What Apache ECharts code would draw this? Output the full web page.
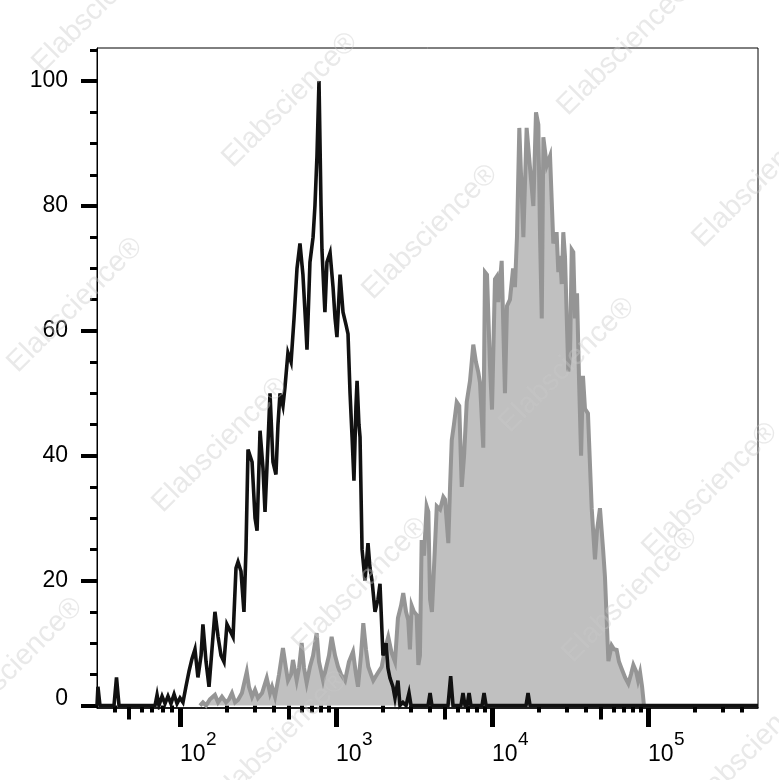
<!DOCTYPE html>
<html>
<head>
<meta charset="utf-8">
<script src="https://cdn.jsdelivr.net/npm/echarts@6/dist/echarts.min.js"></script>
<style>
html,body{margin:0;padding:0;background:#fff;}
#chart{width:779px;height:780px;}
</style>
</head>
<body>
<div id="chart"></div>
<script>
// x values are log10 of fluorescence intensity (display units of the biexponential axis)
const blackX = [1.468,1.474,1.487,1.577,1.593,1.609,1.840,1.853,1.865,1.885,1.904,1.923,1.942,1.962,1.981,2.000,2.019,2.038,2.058,2.077,2.096,2.115,2.135,2.147,2.167,2.186,2.205,2.224,2.244,2.263,2.282,2.301,2.321,2.340,2.359,2.372,2.391,2.410,2.423,2.436,2.449,2.462,2.481,2.494,2.513,2.532,2.545,2.564,2.577,2.596,2.615,2.628,2.641,2.660,2.673,2.692,2.712,2.731,2.750,2.769,2.788,2.808,2.814,2.833,2.853,2.865,2.878,2.891,2.904,2.910,2.923,2.929,2.942,2.962,2.981,2.994,3.006,3.026,3.045,3.064,3.077,3.090,3.103,3.115,3.128,3.135,3.147,3.154,3.167,3.186,3.205,3.218,3.231,3.250,3.269,3.282,3.301,3.321,3.333,3.346,3.365,3.378,3.397,3.410,3.429,3.449,3.468,3.481,3.590,3.603,3.615,3.718,3.735,3.750,3.801,3.814,3.827,3.840,3.853,3.865,3.936,3.949,3.962,4.218,4.231,4.244,5.705];
const blackY = [0,3,0,0,4.5,0,0,1.7,0,1.5,0.3,1.5,0.3,1.8,0.3,1.2,0.5,3,5.5,7.5,9,4.5,8,13,7,3,9,15,11,8,7,13,12,11,22,23,21.5,15,25,41,40,39,30,28,44,38,31,42,50,39,37,45,50,48,51,56.5,55,62,70,74,69,60,57,71,75,80,88,100,80,73,66,63,71,72.5,67,62,59,69,63,61,59.5,50,43,36,48,52,45,43,25,20,26,22,20,15,17,19.5,8,10,6,4.4,3,1.2,4,0,0.5,0,2,0,0,2,0,0,4.7,0,0,2,0,0,2,0,0,2,0,0,2,0,0];

const grayX = [2.128,2.147,2.167,2.192,2.224,2.244,2.269,2.295,2.314,2.333,2.353,2.372,2.397,2.428,2.442,2.462,2.481,2.500,2.526,2.556,2.577,2.590,2.609,2.635,2.660,2.679,2.692,2.712,2.724,2.748,2.763,2.780,2.795,2.812,2.833,2.853,2.876,2.891,2.917,2.936,2.955,2.972,2.994,3.013,3.032,3.058,3.083,3.109,3.128,3.141,3.160,3.175,3.192,3.207,3.224,3.239,3.263,3.293,3.314,3.335,3.357,3.378,3.397,3.417,3.431,3.449,3.463,3.474,3.485,3.500,3.517,3.528,3.538,3.549,3.564,3.581,3.592,3.603,3.615,3.628,3.646,3.667,3.688,3.699,3.720,3.731,3.742,3.756,3.774,3.790,3.806,3.821,3.838,3.859,3.880,3.897,3.912,3.923,3.944,3.955,3.968,3.987,4.000,4.019,4.030,4.040,4.062,4.071,4.083,4.096,4.115,4.135,4.147,4.160,4.175,4.186,4.201,4.222,4.244,4.265,4.282,4.297,4.308,4.319,4.329,4.351,4.372,4.383,4.393,4.414,4.425,4.436,4.447,4.457,4.468,4.489,4.500,4.511,4.521,4.532,4.545,4.558,4.571,4.583,4.596,4.615,4.639,4.660,4.673,4.692,4.712,4.724,4.746,4.767,4.782,4.799,4.814,4.831,4.853,4.874,4.891,4.906,4.923,4.936,4.949,4.962,4.974];
const grayY = [0,0.5,0,1,1.7,0.5,1.4,0.5,1,2,0.5,0.9,2,5.4,3,1.4,2.5,1.2,2,4.4,2,3,1.4,5,9.2,6,4,5,7.3,4,6,10,6,3.6,6.2,8,11.6,7,4,6,8,11,8,6.2,5,4,7,8.6,5,3,8,13.2,9,6.2,5,4,5,6.2,9,11,8.4,7,14,16,18,15,13.7,9,16,15,14.5,6.5,8,26.5,24,31.9,31,17,15,22,31.9,31.4,33.4,33,26,35,42.5,45,48.6,48,35,40,48.6,52,57.8,55,53.4,51.7,41.3,69.4,69,54.4,47.4,68.3,68.7,64.6,71.2,71,50,64,65,70,67,75,92.5,85,75,92.5,86,80,95,93,75,62,91,86.5,88,88,74,75.8,69.4,72,67.5,75.8,71.8,53.5,56,73,72.6,62,66,52,40,52.8,47.5,46.8,31.6,23.4,28,31.6,25,20.6,7.1,9.6,9,8.9,7,5.9,4.5,3.5,5,6.5,5.5,4,5.3,3,0];

const yLabelValues = [0,20,40,60,80,100];
const yMinorValues = [5,10,15,25,30,35,45,50,55,65,70,75,85,90,95,105];
const xMajorValues = [2,3,4,5];
const xMidValues = [1.673,2.699,3.699,4.699];
const xMinorValues = [1.583,1.756,1.821,1.891,1.949,
  2.301,2.477,2.602,2.778,2.845,2.903,2.954,
  3.301,3.477,3.602,3.778,3.845,3.903,3.954,
  4.301,4.477,4.602,4.778,4.845,4.903,4.954,
  5.301,5.477,5.602];
const xLabelBase = '10';
const watermarkText = 'Elabscience\u00AE';

const XMIN = 1.468, XMAX = 5.705, YMIN = -0.4, YMAX = 105.3;
const FONT = '"Liberation Sans", Arial, sans-serif';

const chart = echarts.init(document.getElementById('chart'), null, {renderer:'canvas'});

function xAxisBase(extra){
  return Object.assign({
    type:'value', min:XMIN, max:XMAX, position:'bottom',
    splitLine:{show:false},
    axisLine:{show:false},
    axisLabel:{show:false},
    axisTick:{show:false}
  }, extra);
}

// faint diagonal watermark stamps (page decoration, not data)
const wmCenters = [[100,5],[290,100],[430,232],[567,365],[710,490],[625,48],[760,180],[75,305],[220,445],[360,585],[630,595],[15,665],[280,738],[755,745]];
const watermarks = wmCenters.map(c=>({
  type:'text', x:c[0], y:c[1], rotation:Math.PI/4, z:100, silent:true,
  style:{text:watermarkText, fontSize:29, fontFamily:FONT, fill:'rgba(200,200,200,0.4)', align:'center', verticalAlign:'middle'}
}));

const option = {
  animation:false,
  backgroundColor:'#fff',
  grid:{left:97, right:21, top:48, bottom:72, show:true, borderColor:'#000', borderWidth:1, containLabel:false},
  graphic:watermarks,
  xAxis:[
    xAxisBase({
      axisLine:{show:true, onZero:false, lineStyle:{color:'#000', width:1.5}},
      axisTick:{show:true, customValues:xMajorValues, length:19, lineStyle:{color:'#000', width:5}},
      axisLabel:{show:true, customValues:xMajorValues, margin:35, align:'left', verticalAlign:'top',
        fontSize:23, fontFamily:FONT, color:'#000', formatter:()=>xLabelBase}
    }),
    xAxisBase({axisTick:{show:true, customValues:xMidValues, length:14, lineStyle:{color:'#000', width:4}}}),
    xAxisBase({axisTick:{show:true, customValues:xMinorValues, length:7, lineStyle:{color:'#000', width:4}}}),
    xAxisBase({
      axisLabel:{show:true, customValues:xMajorValues, margin:22, align:'left', verticalAlign:'top',
        fontSize:19, fontFamily:FONT, color:'#000', padding:[0,0,0,26],
        formatter:(v)=>String(Math.round(v))}
    })
  ],
  yAxis:[
    {type:'value', min:YMIN, max:YMAX, position:'left',
      splitLine:{show:false},
      axisLine:{show:true, onZero:false, lineStyle:{color:'#000', width:1}},
      axisTick:{show:true, customValues:yLabelValues, length:16, lineStyle:{color:'#000', width:4}},
      axisLabel:{show:true, customValues:yLabelValues, margin:29, fontSize:23, fontFamily:FONT, color:'#000',
        formatter:(v)=> v===0 ? '{z|0}' : String(v),
        rich:{z:{fontSize:23, fontFamily:FONT, color:'#000', padding:[0,0,14,0]}}}
    },
    {type:'value', min:YMIN, max:YMAX, position:'left',
      splitLine:{show:false}, axisLine:{show:false}, axisLabel:{show:false},
      axisTick:{show:true, customValues:yMinorValues, length:7, lineStyle:{color:'#000', width:3}}
    }
  ],
  series:[
    {type:'line', name:'stained', xAxisIndex:0, yAxisIndex:0, symbol:'none', z:2,
      data: grayX.map((x,i)=>[x, grayY[i]]),
      lineStyle:{color:'#959595', width:4, join:'miter', miterLimit:6},
      areaStyle:{color:'#c0c0c0', opacity:1}
    },
    {type:'line', name:'isotype', xAxisIndex:0, yAxisIndex:0, symbol:'none', z:3,
      data: blackX.map((x,i)=>[x, blackY[i]]),
      lineStyle:{color:'#111111', width:3.6, join:'miter', miterLimit:6}
    }
  ]
};
chart.setOption(option);
</script>
</body>
</html>
